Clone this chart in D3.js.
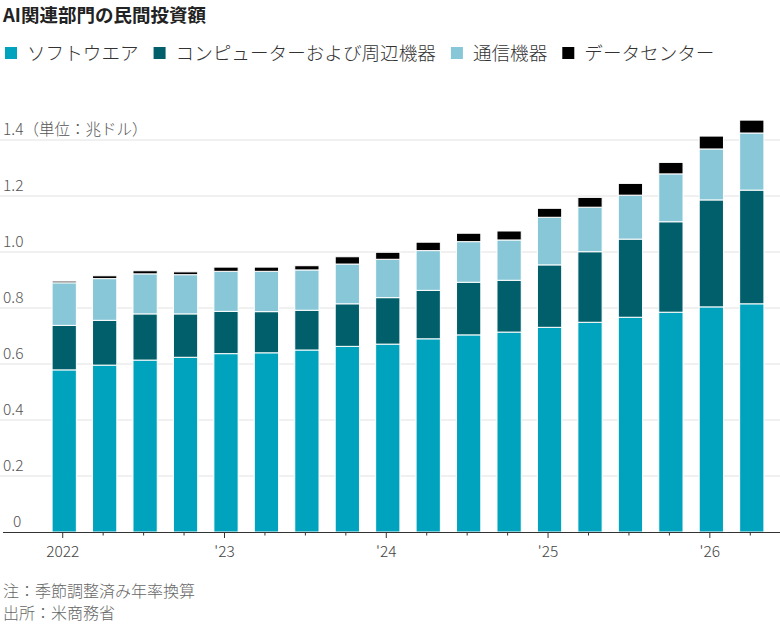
<!DOCTYPE html>
<html>
<head>
<meta charset="utf-8">
<script src="https://cdn.jsdelivr.net/npm/d3@7"></script>
<style>
  body { margin: 0; background: #fff; }
  text { font-family: "Noto Sans CJK JP", "Noto Sans", sans-serif; }
</style>
</head>
<body>
<div id="chart"></div>
<script>
// quarters 2022Q1 .. 2026Q2
const quarters = ["2022Q1","2022Q2","2022Q3","2022Q4","2023Q1","2023Q2","2023Q3","2023Q4",
                  "2024Q1","2024Q2","2024Q3","2024Q4","2025Q1","2025Q2","2025Q3","2025Q4",
                  "2026Q1","2026Q2"];
const yearLabels = {"2022Q1": "2022", "2023Q1": "'23", "2024Q1": "'24", "2025Q1": "'25", "2026Q1": "'26"};

const seriesNames = ["ソフトウエア", "コンピューターおよび周辺機器", "通信機器", "データセンター"];
const software   = [0.579,0.596,0.614,0.624,0.637,0.640,0.650,0.663,0.671,0.690,0.704,0.714,0.731,0.749,0.767,0.785,0.804,0.815];
const computers  = [0.159,0.160,0.165,0.155,0.151,0.147,0.142,0.152,0.166,0.173,0.188,0.185,0.223,0.252,0.279,0.323,0.382,0.406];
const comm       = [0.152,0.149,0.143,0.140,0.143,0.144,0.144,0.142,0.137,0.142,0.145,0.144,0.170,0.159,0.157,0.171,0.182,0.204];
const datacenter = [0.006,0.010,0.011,0.010,0.015,0.015,0.015,0.026,0.025,0.030,0.030,0.032,0.032,0.035,0.042,0.041,0.046,0.046];
const yTicks = [0, 0.2, 0.4, 0.6, 0.8, 1.0, 1.2, 1.4];

const colors = ["#00a3bd", "#005f6a", "#88c7d7", "#000000"];

const width = 780, height = 625;
const svg = d3.select("#chart").append("svg")
    .attr("width", width)
    .attr("height", height);

// build rows for the stack
const keys = ["software", "computers", "comm", "datacenter"];
const rows = quarters.map((q, i) => ({
    q,
    software: software[i],
    computers: computers[i],
    comm: comm[i],
    datacenter: datacenter[i]
}));
const stacked = d3.stack().keys(keys)(rows);

const x = d3.scaleBand()
    .domain(quarters)
    .range([44, 772])
    .paddingInner(0.4)
    .paddingOuter(0.2);

const y = d3.scaleLinear()
    .domain([0, 1.4])
    .range([532, 140]);

// title
svg.append("text")
    .attr("x", 3)
    .attr("y", 22)
    .attr("font-size", "18.5px")
    .attr("font-weight", "bold")
    .attr("fill", "#222")
    .text("AI関連部門の民間投資額");

// legend
const legend = svg.append("g").attr("transform", "translate(5,53)");
let lx = 0;
seriesNames.forEach((name, i) => {
    legend.append("rect")
        .attr("x", lx)
        .attr("y", -6)
        .attr("width", 12)
        .attr("height", 12)
        .attr("fill", colors[i]);
    const t = legend.append("text")
        .attr("x", lx + 22)
        .attr("y", 0)
        .attr("dy", "0.35em")
        .attr("font-size", "18.6px")
        .attr("font-weight", 300)
        .attr("fill", "#333")
        .text(name);
    lx += 22 + t.node().getComputedTextLength() + 15;
});

// gridlines + y labels
svg.append("g")
    .selectAll("line")
    .data(yTicks.filter(d => d > 0))
    .join("line")
    .attr("x1", 0)
    .attr("x2", width)
    .attr("y1", d => y(d))
    .attr("y2", d => y(d))
    .attr("stroke", "#e2e2e2")
    .attr("stroke-width", 1);

svg.append("g")
    .selectAll("text")
    .data(yTicks)
    .join("text")
    .attr("x", d => d === 0 ? 13 : 3)
    .attr("y", d => y(d) - 5)
    .attr("font-size", "15.5px")
    .attr("font-weight", 300)
    .attr("fill", "#555")
    .text(d => d === 1.4 ? "1.4（単位：兆ドル）" : (d === 0 ? "0" : d3.format(".1f")(d)));

// bars
svg.append("g")
    .selectAll("g")
    .data(stacked)
    .join("g")
    .attr("fill", (d, i) => colors[i])
    .selectAll("rect")
    .data(d => d)
    .join("rect")
    .attr("x", d => x(d.data.q))
    .attr("y", d => y(d[1]))
    .attr("width", x.bandwidth())
    .attr("height", d => Math.max(0, y(d[0]) - y(d[1])))
    .attr("stroke", "#fff")
    .attr("stroke-width", 1);

// x axis
const axisY = y(0);
svg.append("line")
    .attr("x1", 3)
    .attr("x2", width)
    .attr("y1", axisY + 0.5)
    .attr("y2", axisY + 0.5)
    .attr("stroke", "#333")
    .attr("stroke-width", 1);

svg.append("g")
    .selectAll("line")
    .data(quarters)
    .join("line")
    .attr("x1", d => x(d) + x.bandwidth() / 2 - 1.5)
    .attr("x2", d => x(d) + x.bandwidth() / 2 - 1.5)
    .attr("y1", axisY)
    .attr("y2", d => axisY + (yearLabels[d] ? 6 : 3.5))
    .attr("stroke", "#333")
    .attr("stroke-width", 1);

svg.append("g")
    .selectAll("text")
    .data(quarters.filter(q => yearLabels[q]))
    .join("text")
    .attr("x", d => x(d) + x.bandwidth() / 2 - 1.5)
    .attr("y", axisY + 25)
    .attr("text-anchor", "middle")
    .attr("font-size", "15.5px")
    .attr("font-weight", 300)
    .attr("fill", "#444")
    .text(d => yearLabels[d]);

// footnotes
svg.append("text")
    .attr("x", 3)
    .attr("y", 597)
    .attr("font-size", "16px")
    .attr("font-weight", 300)
    .attr("fill", "#666")
    .text("注：季節調整済み年率換算");
svg.append("text")
    .attr("x", 3)
    .attr("y", 619)
    .attr("font-size", "16px")
    .attr("font-weight", 300)
    .attr("fill", "#666")
    .text("出所：米商務省");
</script>
</body>
</html>
